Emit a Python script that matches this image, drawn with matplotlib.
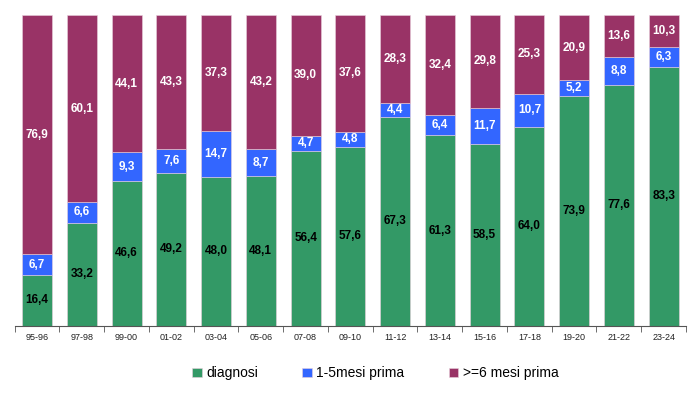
import matplotlib
matplotlib.use('Agg')
import matplotlib.pyplot as plt
import numpy as np

periods = ['95-96', '97-98', '99-00', '01-02', '03-04', '05-06', '07-08', '09-10',
           '11-12', '13-14', '15-16', '17-18', '19-20', '21-22', '23-24']
diagnosi = [16.4, 33.2, 46.6, 49.2, 48.0, 48.1, 56.4, 57.6,
            67.3, 61.3, 58.5, 64.0, 73.9, 77.6, 83.3]
mesi_1_5 = [6.7, 6.6, 9.3, 7.6, 14.7, 8.7, 4.7, 4.8,
            4.4, 6.4, 11.7, 10.7, 5.2, 8.8, 6.3]
mesi_6 = [76.9, 60.1, 44.1, 43.3, 37.3, 43.2, 39.0, 37.6,
          28.3, 32.4, 29.8, 25.3, 20.9, 13.6, 10.3]

series = [('diagnosi', diagnosi, '#339966', 'black'),
          ('1-5mesi prima', mesi_1_5, '#3366FF', 'white'),
          ('>=6 mesi prima', mesi_6, '#993366', 'white')]

fig = plt.figure(figsize=(7, 3.96), dpi=100)
ax = fig.add_axes([0.021, 0.177, 0.959, 0.785])

x = np.arange(len(periods))
bottom = np.zeros(len(periods))
for name, vals, color, tcolor in series:
    vals = np.array(vals)
    ax.bar(x, vals, bottom=bottom, width=0.67, color=color, label=name,
           edgecolor='#e8d0dc', linewidth=0.4)
    for xi, b, v in zip(x, bottom, vals):
        ax.text(xi, b + v / 2, f'{v:.1f}'.replace('.', ','), ha='center',
                va='center', color=tcolor, fontsize=8.5, fontweight='bold',
                family='Liberation Sans')
    bottom += vals

ax.set_xlim(-0.5, len(periods) - 0.5)
ax.set_ylim(0, 100)
ax.set_yticks([])
for s in ['left', 'right', 'top']:
    ax.spines[s].set_visible(False)
ax.spines['bottom'].set_color('#555555')
ax.spines['bottom'].set_linewidth(0.8)

ax.set_xticks(x)
ax.set_xticklabels(periods, fontsize=6.5, color='#222222', family='Liberation Sans')
ax.tick_params(axis='x', length=0, pad=5)
ax.set_xticks(np.arange(len(periods) + 1) - 0.5, minor=True)
ax.tick_params(axis='x', which='minor', length=4, color='#555555')

ax.legend(loc='upper center', bbox_to_anchor=(0.537, -0.09), ncol=3, frameon=False,
          prop={'family': 'Liberation Sans', 'size': 10}, handlelength=0.7,
          handleheight=0.7, handletextpad=0.3, columnspacing=3.2)

fig.savefig('out.png', dpi=100)
